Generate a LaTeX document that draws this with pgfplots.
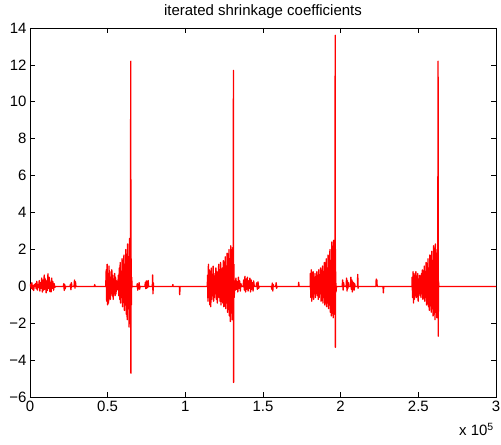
\documentclass[border=0pt]{standalone}
\usepackage{fontspec}
\setmainfont{Liberation Sans}
\usepackage{pgfplots}
\pgfplotsset{compat=1.18}

\pgfplotstableread{
x y
0 0
400 0.12
800 -0.10
1200 0.20
1600 -0.15
2000 0.05
2400 -0.22
2800 0.10
3200 0.00
3600 0.15
4000 -0.12
4400 0.28
4800 -0.20
5200 0.10
5600 -0.05
6000 0.32
6400 -0.25
6800 0.20
7200 -0.10
7600 0.45
8000 -0.30
8400 0.35
8800 -0.20
9200 0.62
9600 -0.15
10000 0.40
10400 -0.35
10800 0.30
11200 -0.22
11600 0.68
12000 -0.10
12400 0.50
12800 -0.28
13200 0.22
13600 -0.30
14000 0.45
14400 -0.10
14800 0.25
15200 -0.20
15600 0.15
16000 -0.05
16400 0
21500 0
21800 0.15
22100 -0.22
22400 0.10
22700 -0.12
23000 0
25800 0
26100 0.12
26400 -0.18
26700 0.20
27000 0
28400 0
28700 0.35
29000 -0.10
29300 0.25
29600 0
41500 0
41700 0.10
41900 0
48800 0
49100 0.9
49400 -0.8
49700 1.2
50000 -1.0
50300 0.7
50600 -0.9
50900 1.1
51200 -0.6
51500 0.8
51800 -0.7
52100 0.5
52400 -0.4
52700 0.9
53000 -0.5
53300 0.6
53600 -0.7
53900 0.4
54200 -0.3
54500 0.7
54800 -0.5
55100 0.5
55400 -0.4
55700 0.3
56000 -0.2
56300 0.1
56600 0
56900 0.6
57200 -0.5
57500 1.0
57800 -0.7
58100 1.3
58400 -0.9
58700 0.8
59000 -0.6
59300 1.5
59600 -1.1
59900 1.0
60200 -0.8
60500 1.7
60800 -1.3
61100 1.2
61400 -1.0
61700 2.0
62000 -1.5
62300 1.4
62600 -1.8
62900 2.3
63200 -1.2
63500 1.6
63800 -2.2
64100 2.6
64400 -2.0
64700 1.8
64900 12.2
65000 -4.7
65100 1.5
65300 -1.0
65500 0.5
65700 0
68800 0
69100 0.15
69400 -0.20
69700 0.10
70000 -0.08
70300 0.20
70600 -0.15
70900 0
74000 0
74300 0.22
74600 -0.12
74900 0.30
75200 -0.10
75500 0.25
75800 -0.05
76100 0.32
76400 0
78800 0
79000 0.62
79200 -0.40
79400 0.20
79600 0
91800 0
92000 0.10
92200 0
96200 0
96400 -0.45
96600 0
114200 0
114300 0.6
114600 -0.8
114900 1.2
115200 -0.6
115500 0.9
115800 -1.0
116100 0.8
116400 -1.1
116700 1.0
117000 -0.7
117300 0.6
117600 -0.5
117900 1.1
118200 -0.8
118500 0.7
118800 -0.6
119100 0.5
119400 -0.4
119700 1.0
120000 -0.7
120300 0.8
120600 -0.9
120900 0.6
121200 -0.5
121500 1.2
121800 -0.6
122100 0.9
122400 -0.8
122700 1.3
123000 -1.0
123300 0.7
123600 -0.6
123900 1.0
124200 -0.9
124500 1.4
124800 -1.1
125100 0.9
125400 -0.7
125700 1.6
126000 -1.2
126300 1.1
126600 -0.9
126900 1.8
127200 -1.4
127500 1.3
127800 -1.1
128100 2.0
128400 -1.6
128700 1.5
129000 -1.9
129300 2.2
129600 -1.3
129900 1.7
130200 -1.8
130500 2.1
130800 -1.5
131000 11.7
131100 -5.2
131250 1.2
131500 -0.6
131800 0.3
132200 -0.2
132600 0.45
133000 -0.15
133400 0.25
133800 -0.30
134200 0.50
134600 -0.10
135000 0.30
135400 -0.25
135800 0.15
136200 0
137200 0
137600 0.35
138000 -0.20
138400 0.55
138800 -0.30
139200 0.40
139600 -0.15
140000 0.50
140400 -0.25
140800 0.30
141200 -0.10
141600 0.45
142000 -0.30
142400 0.35
142800 -0.15
143200 0.20
143600 -0.25
144000 0.30
144400 0
145600 0
146000 0.20
146400 -0.15
146800 0.25
147200 -0.10
147600 0
155400 0
155700 -0.15
156000 0.18
156300 -0.25
156600 0.10
156900 0
158200 0
158500 0.20
158800 -0.10
159100 0
172800 0
173000 0.22
173200 0
180400 0
180500 0.7
180800 -0.6
181100 0.9
181400 -0.8
181700 0.6
182000 -0.5
182300 0.8
182600 -0.7
182900 0.5
183200 -0.4
183500 0.7
183800 -0.6
184100 0.4
184400 -0.3
184700 0.8
185000 -0.5
185300 0.6
185600 -0.7
185900 0.9
186200 -0.6
186500 0.5
186800 -0.4
187100 1.0
187400 -0.8
187700 0.7
188000 -0.5
188300 1.1
188600 -0.9
188900 0.8
189200 -0.6
189500 1.3
189800 -1.0
190100 0.9
190400 -0.7
190700 1.5
191000 -1.1
191300 1.0
191600 -0.9
191900 1.7
192200 -1.2
192500 1.2
192800 -1.0
193100 2.0
193400 -1.4
193700 1.4
194000 -1.6
194300 2.4
194600 -1.3
194900 1.8
195200 -1.7
195500 2.5
195800 -1.5
196100 1.9
196300 -1.2
196500 13.6
196600 -3.3
196750 0.8
197000 -0.3
197300 0
201000 0
201300 0.35
201600 -0.20
201900 0.20
202200 0
203500 0
203800 0.45
204100 -0.25
204400 0.30
204700 -0.10
205000 0.20
205300 0
206300 0
206600 0.50
206900 -0.15
207200 0.35
207500 -0.30
207800 0.25
208100 -0.10
208400 0.20
208700 -0.20
209000 0.15
209300 0
210800 0
211000 0.65
211200 -0.10
211400 0
222700 0
222900 0.40
223100 0.10
223300 0.35
223500 0
227300 0
227500 -0.35
227700 0
245900 0
246000 0.5
246300 -0.6
246600 0.8
246900 -0.9
247200 0.7
247500 -0.7
247800 0.6
248100 -0.5
248400 0.8
248700 -0.6
249000 0.5
249300 -0.4
249600 0.7
249900 -0.8
250200 0.4
250500 -0.3
250800 0.6
251100 -0.5
251400 0.5
251700 -0.6
252000 0.7
252300 -0.4
252600 0.9
252900 -0.7
253200 0.6
253500 -0.5
253800 1.1
254100 -0.8
254400 0.8
254700 -0.6
255000 1.3
255300 -1.0
255600 0.9
255900 -0.8
256200 1.5
256500 -1.1
256800 1.0
257100 -1.3
257400 1.7
257700 -0.9
258000 1.2
258300 -1.4
258600 1.9
258900 -1.2
259200 1.4
259500 -1.6
259800 2.2
260100 -1.1
260400 1.6
260700 -1.8
261000 2.3
261300 -1.4
261600 1.8
261900 -1.7
262200 2.0
262500 -1.3
262700 12.2
262800 -2.7
262950 0.3
263200 0
300000 0
}\coeffs

\begin{document}
\begin{tikzpicture}
\useasboundingbox (-30pt,-47pt) rectangle (472pt,398pt);
\begin{axis}[
    at={(0pt,0pt)}, anchor=south west,
    scale only axis,
    width=467pt, height=370pt,
    xmin=0, xmax=300000,
    ymin=-6, ymax=14,
    xtick={0,50000,100000,150000,200000,250000,300000},
    xticklabels={0,0.5,1,1.5,2,2.5,3},
    scaled x ticks=false,
    ytick={-6,-4,...,14},
    yticklabels={−6,−4,−2,0,2,4,6,8,10,12,14},
    tick align=inside,
    major tick length=5pt,
    tick style={black, line width=0.7pt},
    axis line style={line width=0.8pt},
    tick label style={font=\fontsize{15}{17}\selectfont},
    title={iterated shrinkage coefficients},
    title style={font=\fontsize{15}{17}\selectfont},
    clip=true,
]
\addplot[red, line width=1.35pt, line join=round] table[x=x, y=y] {\coeffs};
\end{axis}
\node[anchor=north east, inner sep=0pt, font=\fontsize{15}{17}\selectfont]
    at (465pt,-26pt) {x 10\textsuperscript{5}};
\end{tikzpicture}
\end{document}
